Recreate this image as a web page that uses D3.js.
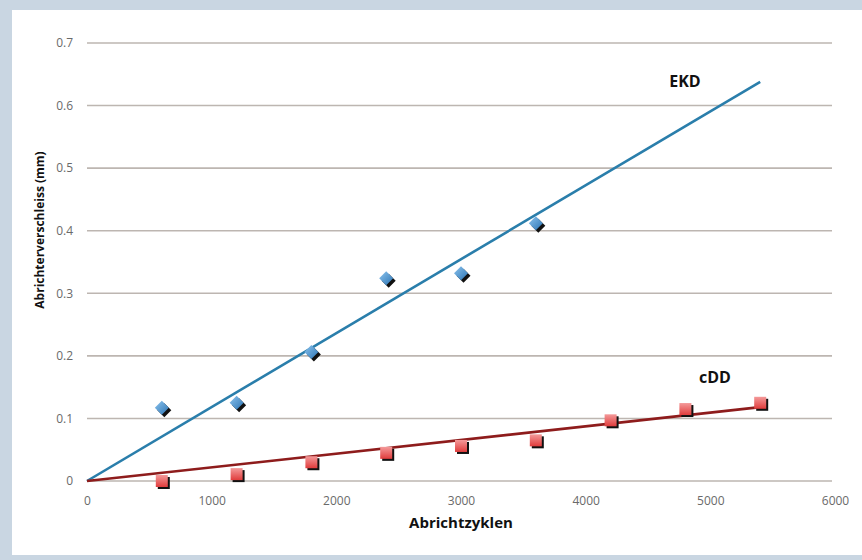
<!DOCTYPE html>
<html>
<head>
<meta charset="utf-8">
<script src="https://cdn.jsdelivr.net/npm/d3@7"></script>
<style>
  body { margin: 0; background: #fff; }
  svg { display: block; font-family: "Open Sans", Lato, sans-serif; }
</style>
</head>
<body>
<div id="chart"></div>
<script>
// Abrichtzyklen (x) and wear in mm for both dressers
var ekdCycles = [600, 1200, 1800, 2400, 3000, 3600];
var ekdWear = [0.117, 0.125, 0.206, 0.324, 0.332, 0.412];
var cddCycles = [600, 1200, 1800, 2400, 3000, 3600, 4200, 4800, 5400];
var cddWear = [0.0, 0.011, 0.030, 0.045, 0.056, 0.065, 0.097, 0.115, 0.125];
// linear trend lines through the origin
var ekdTrend = [[0, 0], [5400, 0.638]];
var cddTrend = [[0, 0], [5400, 0.118]];
var xTicks = [0, 1000, 2000, 3000, 4000, 5000, 6000];
var yTicks = [0, 0.1, 0.2, 0.3, 0.4, 0.5, 0.6, 0.7];

var W = 862, H = 560;

var svg = d3.select("#chart").append("svg")
    .attr("width", W)
    .attr("height", H);

// light blue-grey frame
svg.append("rect").attr("width", W).attr("height", H).attr("fill", "#c9d6e2");
svg.append("rect").attr("x", 12).attr("y", 10).attr("width", W - 12).attr("height", 545).attr("fill", "#fff");

var defs = svg.append("defs");
var gb = defs.append("linearGradient").attr("id", "blueGrad")
    .attr("x1", 0).attr("y1", 0).attr("x2", 1).attr("y2", 1);
gb.append("stop").attr("offset", "0%").attr("stop-color", "#8cc4ee");
gb.append("stop").attr("offset", "100%").attr("stop-color", "#2c74b4");
var gr = defs.append("linearGradient").attr("id", "redGrad")
    .attr("x1", 0).attr("y1", 0).attr("x2", 0).attr("y2", 1);
gr.append("stop").attr("offset", "0%").attr("stop-color", "#f49a9a");
gr.append("stop").attr("offset", "100%").attr("stop-color", "#e03c3c");

var x = d3.scaleLinear().domain([0, 6000]).range([87, 835]);
var y = d3.scaleLinear().domain([0, 0.7]).range([481, 43]);

// horizontal gridlines
svg.append("g").selectAll("line")
    .data(yTicks)
    .enter().append("line")
    .attr("x1", x(0)).attr("x2", x(6000) - 3)
    .attr("y1", function (d) { return y(d); })
    .attr("y2", function (d) { return y(d); })
    .attr("stroke", "#bdb6b1")
    .attr("stroke-width", 1.6);

var yAxis = d3.axisLeft(y).tickValues(yTicks).tickSize(0).tickPadding(14)
    .tickFormat(function (d) { return d === 0 ? "0" : d3.format(".1f")(d); });
svg.append("g")
    .attr("transform", "translate(" + x(0) + ",0)")
    .call(yAxis)
    .call(function (g) { g.select(".domain").remove(); })
    .selectAll("text")
    .attr("font-size", 12)
    .attr("font-family", "Open Sans, sans-serif")
    .attr("fill", "#6a6a6a");

var xAxis = d3.axisBottom(x).tickValues(xTicks).tickSize(0).tickPadding(15)
    .tickFormat(d3.format("d"));
svg.append("g")
    .attr("transform", "translate(0," + y(0) + ")")
    .call(xAxis)
    .call(function (g) { g.select(".domain").remove(); })
    .selectAll("text")
    .attr("font-size", 12)
    .attr("font-family", "Open Sans, sans-serif")
    .attr("fill", "#6a6a6a");

// axis titles
svg.append("text")
    .attr("x", 461).attr("y", 528)
    .attr("text-anchor", "middle")
    .attr("font-size", 15).attr("font-weight", "bold")
    .attr("fill", "#111")
    .text("Abrichtzyklen");

svg.append("text")
    .attr("transform", "translate(44,230) rotate(-90)")
    .attr("text-anchor", "middle")
    .attr("font-size", 12).attr("font-weight", "bold")
    .attr("fill", "#111")
    .text("Abrichterverschleiss (mm)");

var line = d3.line()
    .x(function (d) { return x(d[0]); })
    .y(function (d) { return y(d[1]); });

// trend lines
svg.append("path").datum(ekdTrend)
    .attr("d", line)
    .attr("fill", "none")
    .attr("stroke", "#2a7eab")
    .attr("stroke-width", 2.6);

svg.append("path").datum(cddTrend)
    .attr("d", line)
    .attr("fill", "none")
    .attr("stroke", "#8e1c1c")
    .attr("stroke-width", 2.6);

// EKD diamonds (shadow + body)
var ekd = d3.zip(ekdCycles, ekdWear);
var diamond = "M0,-7L7,0L0,7L-7,0Z";
var ekdG = svg.append("g").selectAll("g")
    .data(ekd)
    .enter().append("g")
    .attr("transform", function (d) { return "translate(" + x(d[0]) + "," + y(d[1]) + ")"; });
ekdG.append("path").attr("d", diamond)
    .attr("transform", "translate(2.5,2.5)")
    .attr("fill", "#111");
ekdG.append("path").attr("d", diamond)
    .attr("fill", "url(#blueGrad)");

// cDD squares (shadow + body)
var cdd = d3.zip(cddCycles, cddWear);
var cddG = svg.append("g").selectAll("g")
    .data(cdd)
    .enter().append("g")
    .attr("transform", function (d) { return "translate(" + x(d[0]) + "," + y(d[1]) + ")"; });
cddG.append("rect")
    .attr("x", -4).attr("y", -4).attr("width", 12).attr("height", 12)
    .attr("fill", "#111");
cddG.append("rect")
    .attr("x", -6).attr("y", -6).attr("width", 12).attr("height", 12)
    .attr("fill", "url(#redGrad)");

// series labels
svg.append("text")
    .attr("x", 685).attr("y", 87)
    .attr("text-anchor", "middle")
    .attr("font-size", 16).attr("font-weight", "bold")
    .attr("fill", "#111")
    .text("EKD");

svg.append("text")
    .attr("x", 715).attr("y", 383)
    .attr("text-anchor", "middle")
    .attr("font-size", 16).attr("font-weight", "bold")
    .attr("fill", "#111")
    .text("cDD");
</script>
</body>
</html>
